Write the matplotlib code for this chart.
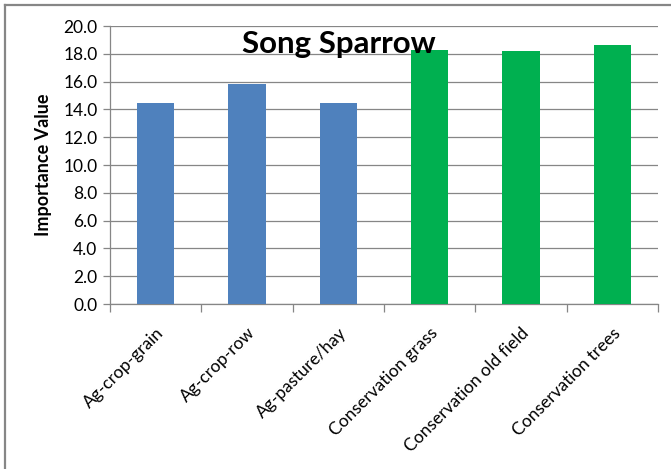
import matplotlib
matplotlib.use("Agg")
import matplotlib.pyplot as plt
from matplotlib.lines import Line2D
import numpy as np

plt.rcParams["font.family"] = ["Lato", "DejaVu Sans"]

categories = [
    "Ag-crop-grain",
    "Ag-crop-row",
    "Ag-pasture/hay",
    "Conservation grass",
    "Conservation old field",
    "Conservation trees",
]
importance = [14.45, 15.85, 14.45, 18.3, 18.2, 18.65]
bar_colors = ["#4F81BD", "#4F81BD", "#4F81BD", "#00B050", "#00B050", "#00B050"]
yticks = np.arange(0, 20.1, 2.0)

W, H = 671, 469
fig = plt.figure(figsize=(W / 100, H / 100), dpi=100)
ax = fig.add_axes([110 / W, 1 - 304 / H, 548 / W, 278 / H])

x = np.arange(len(categories))
ax.bar(x, importance, width=0.41, color=bar_colors, zorder=3)

ax.set_xlim(-0.5, len(categories) - 0.5)
ax.set_ylim(0, 20)
ax.set_yticks(yticks)
ax.set_yticklabels([f"{v:.1f}" for v in yticks], fontsize=12.5)
ax.yaxis.grid(True, color="#868686", linewidth=0.9, zorder=0)

# category labels centred, tick marks on the category boundaries
ax.set_xticks(x)
ax.set_xticklabels(categories, rotation=45, ha="right", rotation_mode="anchor", fontsize=12.5)
ax.tick_params(axis="x", length=0, pad=15)
ax.set_xticks(np.arange(-0.5, len(categories)), minor=True)
ax.tick_params(axis="x", which="minor", length=6, color="#868686", width=0.9)
ax.tick_params(axis="y", length=5, color="#868686", width=0.9, pad=4)

for side in ["top", "right"]:
    ax.spines[side].set_visible(False)
for side in ["left", "bottom"]:
    ax.spines[side].set_color("#868686")
    ax.spines[side].set_linewidth(0.9)

ax.set_ylabel("Importance Value", fontsize=13, fontweight="bold", labelpad=8)
fig.text(339 / W, 1 - 44 / H, "Song Sparrow", ha="center", va="center",
         fontsize=22.5, fontweight="bold")

# chart area frame (left and top edges)
fig.add_artist(Line2D([5 / W, 1], [1 - 5 / H, 1 - 5 / H], color="#868686", lw=1.6))
fig.add_artist(Line2D([5 / W, 5 / W], [0, 1 - 5 / H], color="#868686", lw=1.6))

fig.savefig("out.png", dpi=100)
